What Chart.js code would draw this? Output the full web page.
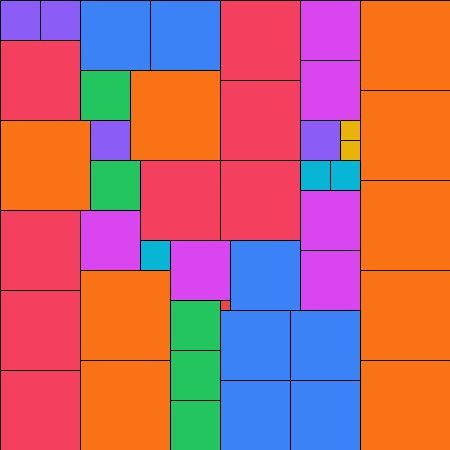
<!DOCTYPE html>
<html>
<head>
<meta charset="utf-8">
<script src="https://cdn.jsdelivr.net/npm/chart.js@4.4.1/dist/chart.umd.min.js"></script>
<style>
  html, body { margin: 0; padding: 0; background: #fff; }
  #wrap { width: 450px; height: 450px; }
</style>
</head>
<body>
<div id="wrap"><canvas id="myChart" width="450" height="450"></canvas></div>
<script>
// square sides (categories) and the colour used for each side
var sides = [1, 2, 3, 4, 5, 6, 7, 8, 9];
var sideColors = ['#ef4444', '#eab308', '#06b6d4', '#8b5cf6', '#22c55e', '#d946ef', '#3b82f6', '#f43f5e', '#f97316'];

// each square: left, top and side, in grid units of a 45 x 45 board
var squareX = [22, 34, 34, 14, 30, 33, 0, 4, 9, 30, 8, 9, 17, 17, 17,
               8, 17, 30, 30, 30, 30, 8, 15, 23, 22, 29, 22, 29,
               0, 0, 0, 0, 14, 22, 22, 22, 0, 8, 8, 13, 36, 36, 36, 36, 36];
var squareY = [30, 12, 14, 24, 16, 16, 0, 0, 12, 12, 7, 16, 30, 35, 40,
               21, 24, 0, 6, 19, 25, 0, 0, 24, 31, 31, 38, 38,
               4, 21, 29, 37, 16, 0, 8, 16, 12, 27, 36, 7, 0, 9, 18, 27, 36];
var squareSide = [1, 2, 2, 3, 3, 3, 4, 4, 4, 4, 5, 5, 5, 5, 5,
                  6, 6, 6, 6, 6, 6, 7, 7, 7, 7, 7, 7, 7,
                  8, 8, 8, 8, 8, 8, 8, 8, 9, 9, 9, 9, 9, 9, 9, 9, 9];

var datasets = sides.map(function (s, i) {
    var pts = [];
    for (var k = 0; k < squareSide.length; k++) {
        if (squareSide[k] === s) {
            pts.push({ x: squareX[k] + s / 2, y: squareY[k] + s / 2, side: s });
        }
    }
    return {
        label: s + '×' + s,
        data: pts,
        pointStyle: 'rect',
        backgroundColor: sideColors[i],
        borderColor: '#000',
        borderWidth: 1,
        clip: false,
        // rect half-width is radius / sqrt(2), so size it from the x scale
        pointRadius: function (ctx) {
            var sx = ctx.chart.scales.x;
            var raw = ctx.raw;
            if (!sx || !raw) return 0;
            var w = sx.getPixelForValue(raw.side) - sx.getPixelForValue(0);
            return w / 2 * Math.SQRT2;
        }
    };
});

var ctx = document.getElementById('myChart');
var chart = new Chart(ctx, {
    type: 'scatter',
    data: { datasets: datasets },
    options: {
        responsive: false,
        animation: false,
        events: [],
        layout: { padding: 0 },
        plugins: {
            legend: { display: false },
            tooltip: { enabled: false }
        },
        scales: {
            x: { type: 'linear', min: -0.05, max: 44.95, display: false },
            y: { type: 'linear', min: -0.05, max: 44.95, reverse: true, display: false }
        }
    }
});
</script>
</body>
</html>
